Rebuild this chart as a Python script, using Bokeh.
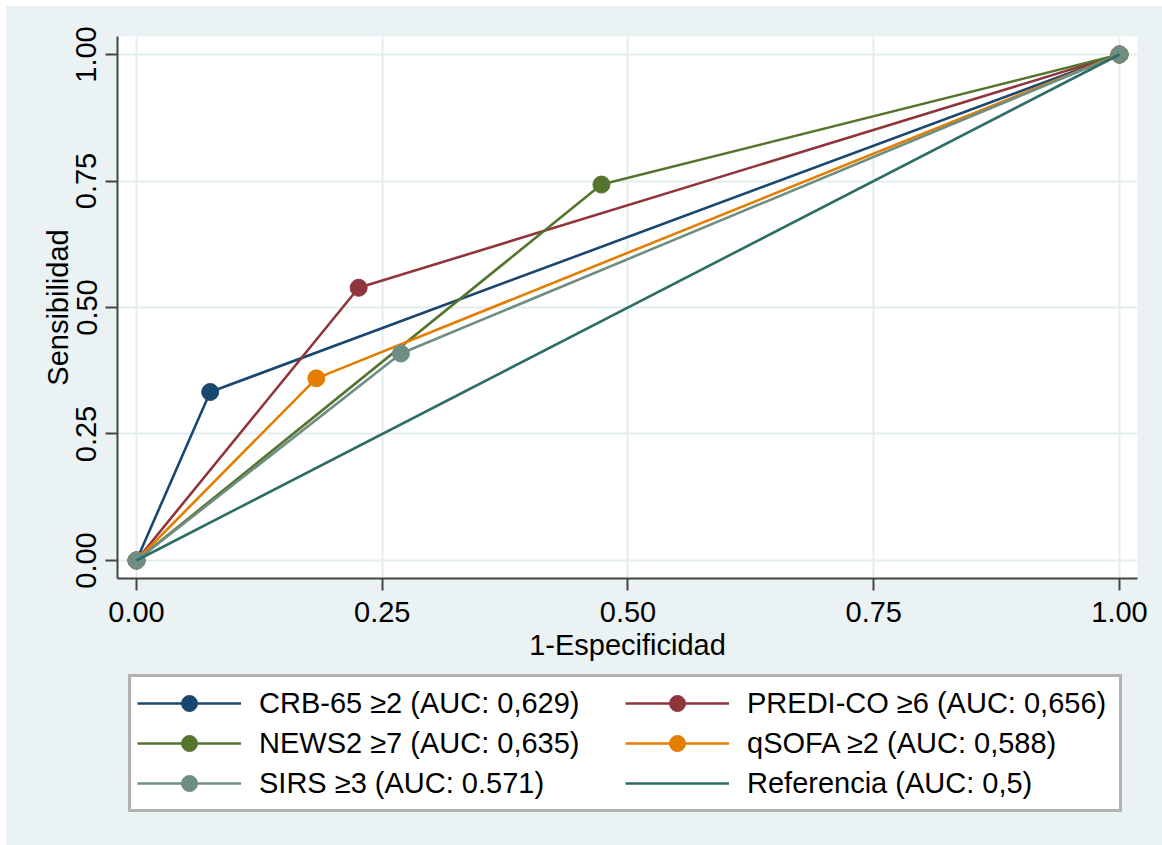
from bokeh.plotting import figure
from bokeh.layouts import column
from bokeh.models import Legend, LegendItem, Range1d, FixedTicker
from bokeh.embed import file_html
from bokeh.resources import INLINE

# ---- data ----
tick_values = [0.0, 0.25, 0.5, 0.75, 1.0]
tick_labels = ["0.00", "0.25", "0.50", "0.75", "1.00"]

series_names = [
    "CRB-65 ≥2 (AUC: 0,629)",
    "PREDI-CO ≥6 (AUC: 0,656)",
    "NEWS2 ≥7 (AUC: 0,635)",
    "qSOFA ≥2 (AUC: 0,588)",
    "SIRS ≥3 (AUC: 0.571)",
]
crb_x = [0.0, 0.075, 1.0]
crb_y = [0.0, 0.333, 1.0]
predi_x = [0.0, 0.226, 1.0]
predi_y = [0.0, 0.539, 1.0]
news_x = [0.0, 0.473, 1.0]
news_y = [0.0, 0.743, 1.0]
qsofa_x = [0.0, 0.183, 1.0]
qsofa_y = [0.0, 0.360, 1.0]
sirs_x = [0.0, 0.269, 1.0]
sirs_y = [0.0, 0.409, 1.0]
ref_name = "Referencia (AUC: 0,5)"
ref_x = [0.0, 1.0]
ref_y = [0.0, 1.0]

colors = ["#1a476f", "#90353b", "#55752f", "#e37e00", "#6e8e84"]
ref_color = "#2d6d66"
FONT = "Liberation Sans"
BG = "#EAF2F3"
FS = "29px"

# ---- main plot ----
p = figure(width=1156, height=664, output_backend="svg", toolbar_location=None,
           x_range=Range1d(-0.0193, 1.0183), y_range=Range1d(-0.0356, 1.0356),
           min_border_left=111, min_border_top=30, min_border_right=25,
           min_border_bottom=92)
p.background_fill_color = "white"
p.border_fill_color = BG
p.outline_line_color = None

xs = [crb_x, predi_x, news_x, qsofa_x, sirs_x]
ys = [crb_y, predi_y, news_y, qsofa_y, sirs_y]
for x, y, c in zip(xs, ys, colors):
    p.line(x, y, line_color=c, line_width=2.6)
    p.scatter(x, y, size=17, fill_color=c, line_color=c)
p.line(ref_x, ref_y, line_color=ref_color, line_width=2.6)

for ax in (p.xaxis[0], p.yaxis[0]):
    ax.ticker = FixedTicker(ticks=tick_values)
    ax.major_label_overrides = {v: t for v, t in zip(tick_values, tick_labels)}
    ax.major_label_text_font = FONT
    ax.major_label_text_font_size = FS
    ax.major_label_text_color = "black"
    ax.axis_label_text_font = FONT
    ax.axis_label_text_font_size = FS
    ax.axis_label_text_font_style = "normal"
    ax.axis_label_text_color = "black"
    ax.axis_line_color = "#444444"
    ax.axis_line_width = 2
    ax.major_tick_line_color = "#444444"
    ax.major_tick_line_width = 2
    ax.major_tick_out = 12
    ax.major_tick_in = 0
    ax.minor_tick_line_color = None

p.xaxis.axis_label = "1-Especificidad"
p.yaxis.axis_label = "Sensibilidad"
p.yaxis.major_label_orientation = "vertical"
p.xaxis.major_label_standoff = 11
p.yaxis.major_label_standoff = 9
p.xaxis.axis_label_standoff = 4
p.yaxis.axis_label_standoff = 0

p.grid.ticker = FixedTicker(ticks=tick_values)
p.grid.grid_line_color = "#E3EDEF"
p.grid.grid_line_width = 2

# ---- legend panel (legend sample glyphs use off-screen points) ----
q = figure(width=1156, height=175, output_backend="svg", toolbar_location=None,
           x_range=Range1d(0, 1), y_range=Range1d(0, 1),
           x_axis_type=None, y_axis_type=None,
           min_border_left=0, min_border_right=0, min_border_top=0, min_border_bottom=0)
q.background_fill_alpha = 0
q.border_fill_alpha = 0
q.outline_line_color = None
q.grid.visible = False

off_x = [5.0, 6.0]
off_y = [5.0, 6.0]
items = []
for name, c in zip(series_names, colors):
    l = q.line(off_x, off_y, line_color=c, line_width=2.6)
    s = q.scatter(off_x, off_y, size=17, fill_color=c, line_color=c)
    items.append(LegendItem(label=name, renderers=[l, s]))
rl = q.line(off_x, off_y, line_color=ref_color, line_width=2.6)
items.append(LegendItem(label=ref_name, renderers=[rl]))

order = [0, 2, 4, 1, 3, 5]
legend = Legend(items=[items[i] for i in order], ncols=2, orientation="vertical",
                location=(11, 33))
legend.label_text_font = FONT
legend.label_text_font_size = FS
legend.label_text_color = "black"
legend.glyph_width = 104
legend.glyph_height = 40
legend.label_standoff = 18
legend.spacing = 0
legend.padding = 6
legend.label_width = 366
legend.border_line_color = "#666666"
legend.border_line_width = 3
legend.background_fill_color = "white"
legend.background_fill_alpha = 1
legend.margin = 0
q.add_layout(legend, "center")

layout = column(p, q, spacing=0)
layout.margin = (6, 0, 0, 6)
layout.styles = {"background-color": BG}

open("out.html", "w").write(file_html(layout, INLINE))
